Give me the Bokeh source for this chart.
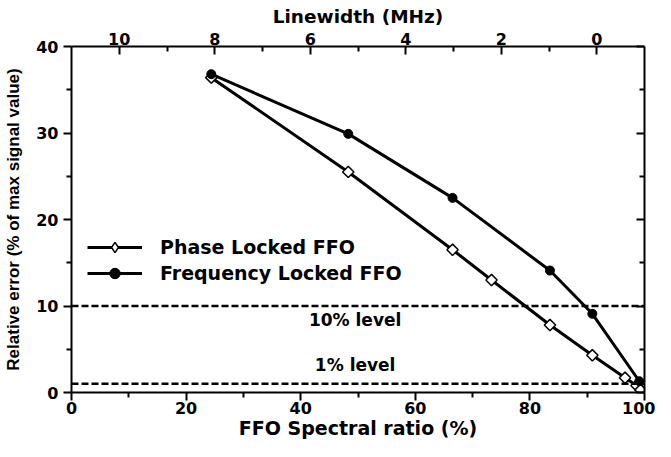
import math
from bokeh.plotting import figure
from bokeh.models import Range1d, LinearAxis, FixedTicker, Span, Label, Legend, LegendItem
from bokeh.embed import file_html
from bokeh.resources import INLINE

# ---- data ----
phase_ratio = [24.4, 48.3, 66.5, 73.3, 83.5, 90.9, 96.6, 98.6, 99.3]
phase_error = [36.4, 25.5, 16.5, 13.0, 7.8, 4.3, 1.7, 0.8, 0.3]
freq_ratio = [24.4, 48.3, 66.5, 83.5, 90.9, 99.1]
freq_error = [36.8, 29.9, 22.5, 14.1, 9.1, 1.3]
levels = [10, 1]
level_labels = ["10% level", "1% level"]
series_names = ["Phase Locked FFO", "Frequency Locked FFO"]
x_ticks = [0, 20, 40, 60, 80, 100]
x_minor = [10, 30, 50, 70, 90]
y_ticks = [0, 10, 20, 30, 40]
y_minor = [5, 15, 25, 35]
top_ticks = [0, 2, 4, 6, 8, 10]
top_minor = [1, 3, 5, 7, 9]

FONT = "DejaVu Sans"
YFONT = "Liberation Sans"

p = figure(width=655, height=441, x_range=Range1d(0, 100), y_range=Range1d(0, 40),
           output_backend="svg", toolbar_location=None,
           min_border_left=71, min_border_right=11, min_border_top=46, min_border_bottom=45)
p.extra_x_ranges = {"lw": Range1d(11, -1)}
p.xgrid.visible = False
p.ygrid.visible = False
p.outline_line_color = None
p.background_fill_color = "white"


def style(ax, ticks, minor, tin, tout, mtin, mtout, label_size="16px", title_size="19px"):
    ax.ticker = FixedTicker(ticks=ticks, minor_ticks=minor)
    ax.axis_line_width = 2
    ax.axis_line_color = "black"
    ax.major_tick_line_width = 2
    ax.minor_tick_line_width = 2
    ax.major_tick_line_color = "black"
    ax.minor_tick_line_color = "black"
    ax.major_tick_in = tin
    ax.major_tick_out = tout
    ax.minor_tick_in = mtin
    ax.minor_tick_out = mtout
    ax.major_label_text_font = FONT
    ax.major_label_text_font_style = "bold"
    ax.major_label_text_font_size = label_size
    ax.major_label_text_color = "black"
    ax.axis_label_text_font = FONT
    ax.axis_label_text_font_style = "bold"
    ax.axis_label_text_font_size = title_size
    ax.axis_label_text_color = "black"


xb = p.xaxis[0]
style(xb, x_ticks, x_minor, 0, 8, 0, 5)
xb.axis_label = "FFO Spectral ratio (%)"
xb.major_label_standoff = 1
xb.axis_label_standoff = 0

yl = p.yaxis[0]
style(yl, y_ticks, y_minor, 0, 8, 0, 5)
yl.axis_label = "Relative error (% of max signal value)"
yl.axis_label_text_font = YFONT
yl.axis_label_text_font_size = "17px"
yl.major_label_standoff = 5
yl.axis_label_standoff = 10

top = LinearAxis(x_range_name="lw")
style(top, top_ticks, top_minor, 8, 0, 5, 0, title_size="18.5px")
top.axis_label = "Linewidth (MHz)"
top.major_label_standoff = 2
top.axis_label_standoff = 3
p.add_layout(top, "above")

right = LinearAxis()
style(right, y_ticks, y_minor, 8, 0, 5, 0)
right.major_label_overrides = {t: "" for t in y_ticks}
right.major_label_standoff = 0
p.add_layout(right, "right")

for lvl in levels:
    p.add_layout(Span(location=lvl, dimension="width", line_color="black",
                      line_width=2.5, line_dash="7 3"))

label_pos = [(49.5, 8.4), (49.5, 3.2)]
for (lx, ly), txt in zip(label_pos, level_labels):
    p.add_layout(Label(x=lx, y=ly, text=txt, text_align="center", text_baseline="middle",
                       text_font=FONT, text_font_style="bold", text_font_size="17px",
                       text_color="black"))

pl = p.line(phase_ratio, phase_error, line_color="black", line_width=3)
fl = p.line(freq_ratio, freq_error, line_color="black", line_width=3)
# zero-size diamond renderer: only its legend swatch is visible
pkey = p.scatter(phase_ratio, phase_error, marker="diamond", size=0,
                 fill_color="white", line_color="black", line_width=1.5)
pm = p.scatter(phase_ratio, phase_error, marker="square", angle=math.pi / 4, size=8,
               fill_color="white", line_color="black", line_width=1.5)
fm = p.scatter(freq_ratio, freq_error, marker="circle", size=9,
               fill_color="black", line_color="black")

legend = Legend(items=[LegendItem(label=series_names[0], renderers=[pl, pkey]),
                       LegendItem(label=series_names[1], renderers=[fl, fm])],
                location=(16, 106), glyph_width=55, glyph_height=26, label_height=20,
                label_standoff=18, spacing=-3, padding=0, margin=0,
                background_fill_alpha=0, border_line_color=None,
                label_text_font=FONT, label_text_font_style="bold",
                label_text_font_size="19px", label_text_color="black")
p.add_layout(legend)

open("out.html", "w").write(file_html(p, INLINE))
